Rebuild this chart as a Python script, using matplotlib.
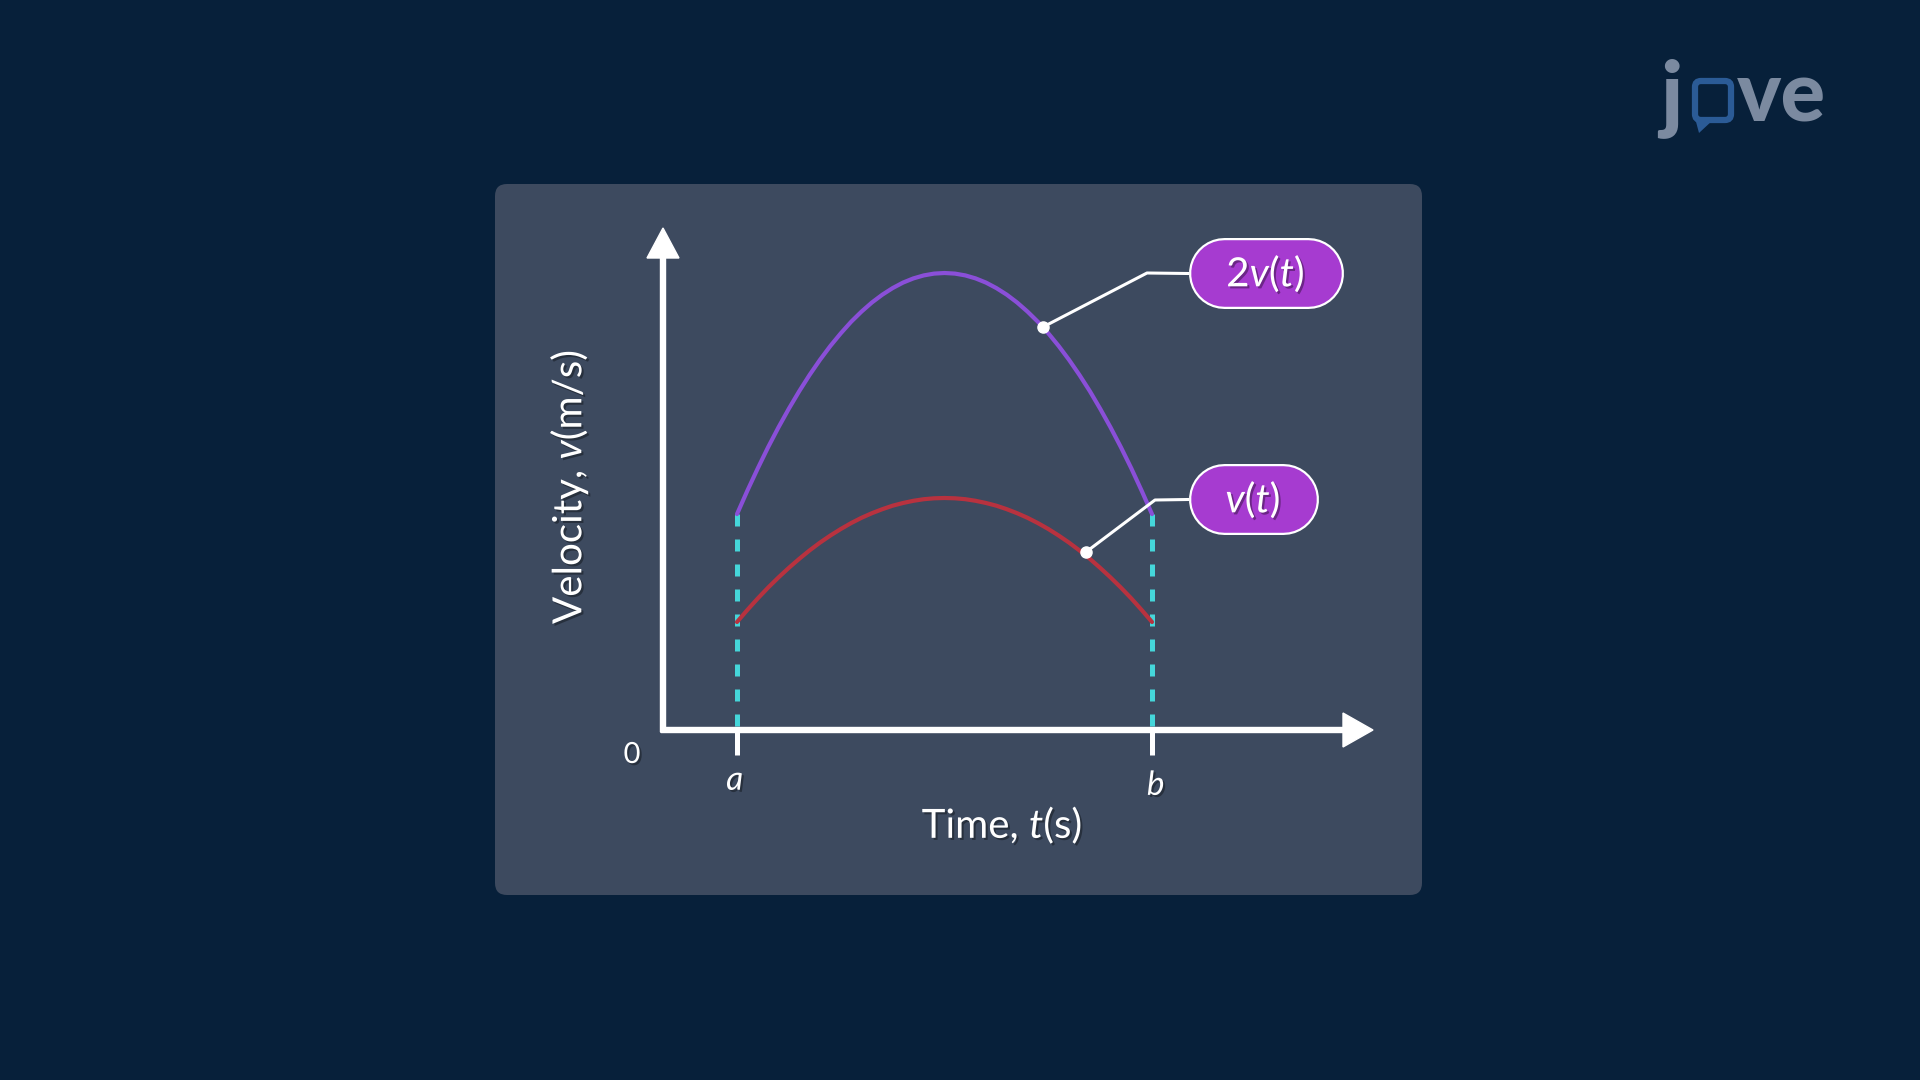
import matplotlib.pyplot as plt
import matplotlib.patheffects as pe
from matplotlib.patches import FancyBboxPatch, FancyArrow, Polygon

plt.rcParams['font.family'] = ['Lato', 'DejaVu Sans']
plt.rcParams['mathtext.fontset'] = 'custom'
plt.rcParams['mathtext.rm'] = 'Lato'
plt.rcParams['mathtext.it'] = 'Lato:italic'

# data (arbitrary units, t from a to b)
t = [0.740, 0.844, 0.948, 1.051, 1.155, 1.259, 1.363, 1.466, 1.570, 1.674, 1.778,
     1.881, 1.985, 2.089, 2.193, 2.296, 2.400, 2.504, 2.608, 2.711, 2.815,
     2.919, 3.023, 3.126, 3.230, 3.334, 3.438, 3.541, 3.645, 3.749, 3.853,
     3.956, 4.060, 4.164, 4.268, 4.371, 4.475, 4.579, 4.683, 4.786, 4.890]
v = [1.080, 1.201, 1.316, 1.424, 1.526, 1.622, 1.712, 1.796, 1.874, 1.945, 2.010,
     2.069, 2.122, 2.168, 2.208, 2.243, 2.270, 2.292, 2.308, 2.317, 2.320,
     2.317, 2.308, 2.292, 2.270, 2.243, 2.208, 2.168, 2.122, 2.069, 2.010,
     1.945, 1.874, 1.796, 1.712, 1.622, 1.526, 1.424, 1.316, 1.201, 1.080]
v2 = [2.159, 2.394, 2.617, 2.828, 3.027, 3.214, 3.389, 3.551, 3.702, 3.841, 3.967,
      4.082, 4.184, 4.275, 4.353, 4.419, 4.474, 4.516, 4.546, 4.564, 4.570,
      4.564, 4.546, 4.516, 4.474, 4.419, 4.353, 4.275, 4.184, 4.082, 3.967,
      3.841, 3.702, 3.551, 3.389, 3.214, 3.027, 2.828, 2.617, 2.394, 2.159]
tick_pos = [0.74, 4.89]
tick_labels = ['$a$', '$b$']
curve_labels = ['$2v(t)$', '$v(t)$']
dot_pts = [(3.80, 4.03), (4.23, 1.78)]
elbow_pts = [(4.84, 4.57), (4.92, 2.30)]
box_centers = [(6.025, 4.565), (5.90, 2.305)]
box_widths = [1.55, 1.30]

BG = '#07203a'
PANEL = '#3d4a5f'
PURPLE = '#8a4fd8'
RED = '#b8323f'
CYAN = '#45d6da'
PILL = '#a63bd0'

shadow = [pe.SimplePatchShadow(offset=(1.5, -1.5), shadow_rgbFace='black', alpha=0.35), pe.Normal()]

fig = plt.figure(figsize=(19.2, 10.8), dpi=100, facecolor=BG)

# background layer in pixel coords: panel + logo
bg = fig.add_axes([0, 0, 1, 1])
bg.set_xlim(0, 1920)
bg.set_ylim(1080, 0)
bg.axis('off')
bg.add_patch(FancyBboxPatch((495, 184), 927, 711, boxstyle='round,pad=0,rounding_size=12',
                            facecolor=PANEL, edgecolor='none'))
logo_grey = '#7b8aa0'
logo_blue = '#2b5b96'
bg.text(1660, 122, 'j', color=logo_grey, fontsize=62, fontweight='black', ha='left', va='baseline')
bg.text(1737, 122, 've', color=logo_grey, fontsize=60, fontweight='black', ha='left', va='baseline')
bg.add_patch(FancyBboxPatch((1695, 81), 36, 39, boxstyle='round,pad=0,rounding_size=6',
                            facecolor='none', edgecolor=logo_blue, lw=4.5))
bg.add_patch(Polygon([(1695, 118), (1699, 133), (1713, 120)], closed=True,
                     facecolor=logo_blue, edgecolor='none'))

# chart layer, 1 data unit = 100 px in both directions
ax = fig.add_axes([495 / 1920, 185 / 1080, 927 / 1920, 711 / 1080])
ax.set_xlim(-1.68, 7.59)
ax.set_ylim(-1.65, 5.46)
ax.axis('off')
ax.patch.set_alpha(0)

# axes with arrows
ax.add_patch(FancyArrow(0, -0.02, 0, 5.04, width=0.05, head_width=0.32, head_length=0.3,
                        length_includes_head=True, color='white', zorder=3))
ax.add_patch(FancyArrow(-0.02, 0, 7.12, 0, width=0.05, head_width=0.34, head_length=0.3,
                        length_includes_head=True, color='white', zorder=3))
for x in tick_pos:
    ax.plot([x, x], [0, -0.25], color='white', lw=3.6, solid_capstyle='butt', zorder=3)
ax.text(-0.31, -0.25, '0', color='white', fontsize=21, ha='center', va='center', path_effects=shadow)
ax.text(0.72, -0.51, tick_labels[0], color='white', fontsize=24, ha='center', va='center', path_effects=shadow)
ax.text(4.93, -0.56, tick_labels[1], color='white', fontsize=24, ha='center', va='center', path_effects=shadow)

# dashed verticals at a and b
for i in (0, -1):
    ax.plot([t[i], t[i]], [v2[i], 0], color=CYAN, lw=3.6, dashes=(2.4, 2.6), zorder=2)

ax.plot(t, v2, color=PURPLE, lw=3, solid_capstyle='round', zorder=4)
ax.plot(t, v, color=RED, lw=3, solid_capstyle='round', zorder=4)

# callouts: pill = thick round-capped line on top of a slightly thicker white one
pill_h = 71 * 72 / 100  # pill height in points
for (dx, dy), (ex, ey), (cx, cy), w, lab in zip(dot_pts, elbow_pts, box_centers, box_widths, curve_labels):
    ax.plot([dx, ex, cx - w / 2], [dy, ey, cy], color='white', lw=2.2, zorder=5)
    ax.plot([dx], [dy], 'o', color='white', ms=8, zorder=6)
    x0, x1 = cx - w / 2 + 0.355, cx + w / 2 - 0.355
    ax.plot([x0, x1], [cy, cy], color='white', lw=pill_h, solid_capstyle='round', zorder=6)
    ax.plot([x0, x1], [cy, cy], color=PILL, lw=pill_h - 3.2, solid_capstyle='round', zorder=6)
    ax.text(cx, cy, lab, color='white', fontsize=29, ha='center', va='center', zorder=7,
            path_effects=shadow)

ax.text(3.39, -0.95, 'Time, $t$(s)', color='white', fontsize=29, ha='center', va='center',
        path_effects=shadow)
ax.text(-0.94, 2.43, 'Velocity, $v$(m/s)', color='white', fontsize=29, ha='center', va='center',
        rotation=90, path_effects=shadow)

fig.savefig('out.png', dpi=100, facecolor=BG)
